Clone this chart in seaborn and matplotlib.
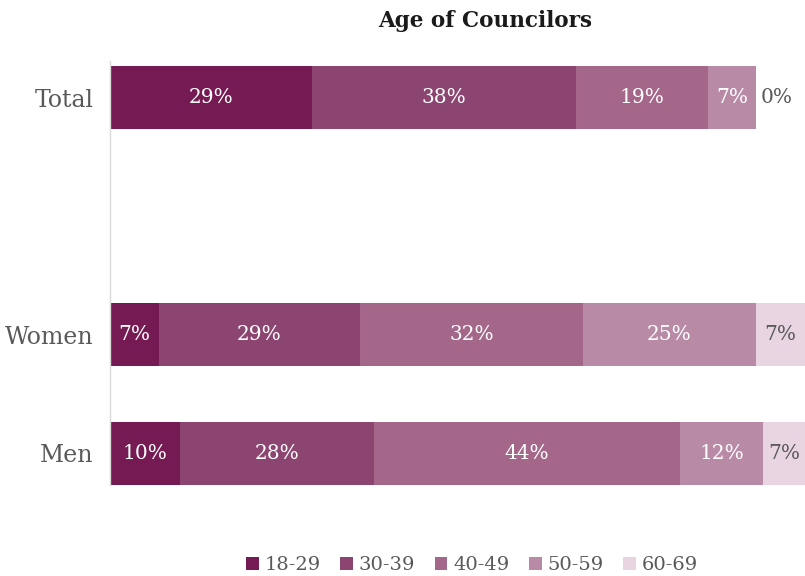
import matplotlib
matplotlib.use("Agg")
import matplotlib.pyplot as plt
import numpy as np
import pandas as pd
import seaborn as sns
from matplotlib.patches import Patch

# Share of councillors per age band, in percent
groups = ["Total", "Women", "Men"]
age_bands = ["18-29", "30-39", "40-49", "50-59", "60-69"]
total_pct = [29, 38, 19, 7, 0]
women_pct = [7, 29, 32, 25, 7]
men_pct = [10, 28, 44, 12, 7]
band_colors = ["#751A52", "#8B4570", "#A46789", "#B98AA6", "#E8D5E1"]
row_order = ["Total", "", "Women", "Men"]

sns.set_theme(style="white")
plt.rcParams["font.family"] = ["DejaVu Serif"]

grey = "#595959"
shares = pd.DataFrame([total_pct, women_pct, men_pct], index=groups, columns=age_bands)
cum = shares.cumsum(axis=1)
start = cum - shares

fig = plt.figure(figsize=(8.05, 5.76), dpi=100)
ax = fig.add_axes([110 / 805, 1 - 485 / 576, 1 - 110 / 805, (485 - 61) / 576])

# Stacked bars: draw cumulative totals from the outermost band inwards
for band, color in reversed(list(zip(age_bands, band_colors))):
    layer = pd.DataFrame({"group": groups, "pct": cum[band].values})
    sns.barplot(data=layer, x="pct", y="group", order=row_order, orient="h",
                color=color, saturation=1, width=0.532, errorbar=None,
                linewidth=0, ax=ax)

ax.set_xlim(0, 100)
ax.set_ylim(3.27, -0.31)

# Value labels
for g in groups:
    ypos = row_order.index(g)
    for i, band in enumerate(age_bands):
        val = shares.loc[g, band]
        x0 = start.loc[g, band]
        x1 = min(cum.loc[g, band], 100)
        txt = f"{val}%"
        if val == 0:
            ax.text(x1 + 0.6, ypos, txt, ha="left", va="center",
                    fontsize=14.5, color=grey)
        else:
            ax.text((x0 + x1) / 2, ypos, txt, ha="center", va="center",
                    fontsize=14.5, color="white" if i < 4 else grey)

ax.set_xlabel("")
ax.set_ylabel("")
ax.set_xticks([])
for side in ["top", "right", "bottom"]:
    ax.spines[side].set_visible(False)
ax.spines["left"].set_color("#D9D9D9")
ax.spines["left"].set_linewidth(1)
ax.tick_params(axis="y", length=0, pad=12, labelsize=17, labelcolor=grey)

fig.text(485 / 805, 1 - 21 / 576, "Age of Councilors", ha="center", va="center",
         fontsize=15.5, fontweight="bold", color="#1a1a1a")

handles = [Patch(facecolor=c, edgecolor="none") for c in band_colors]
fig.legend(handles, age_bands, loc="center", bbox_to_anchor=(472 / 805, 1 - 565 / 576),
           ncol=5, frameon=False, fontsize=14, handlelength=0.65, handleheight=0.65,
           handletextpad=0.3, columnspacing=1.0, labelcolor=grey, borderaxespad=0)

fig.savefig("out.png", dpi=100)
